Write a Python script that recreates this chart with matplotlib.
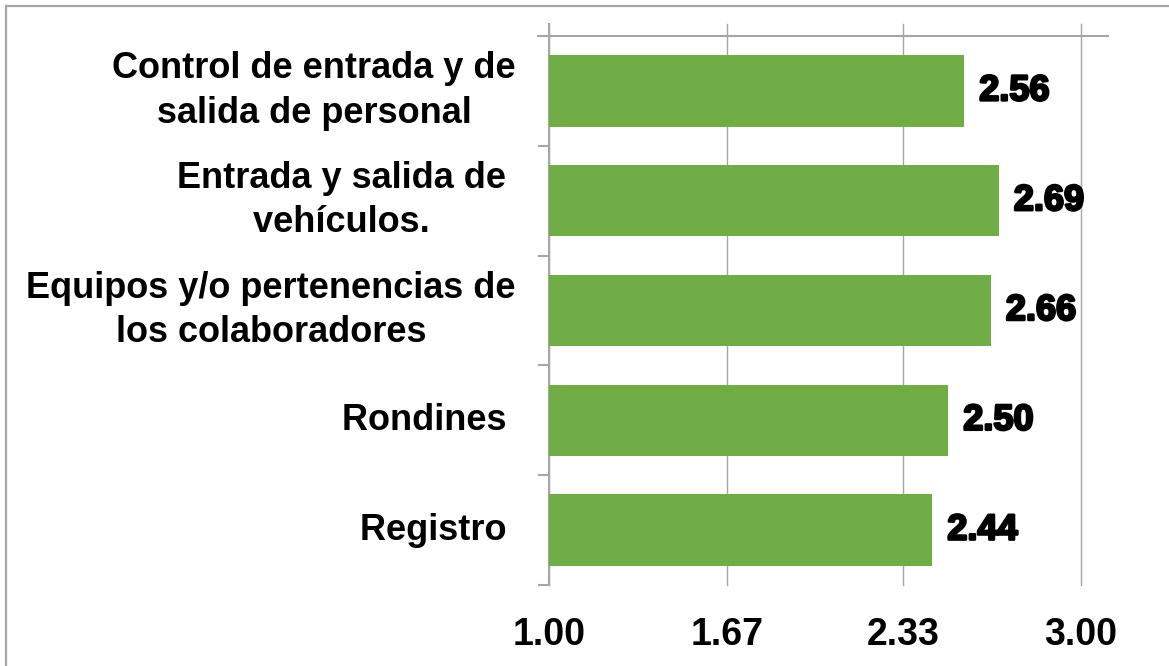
import matplotlib.pyplot as plt
import matplotlib.patheffects as pe
from matplotlib.patches import Rectangle

categories = ["Control de entrada y de\nsalida de personal",
              "Entrada y salida de \nvehículos. ",
              "Equipos y/o pertenencias de\nlos colaboradores",
              "Rondines ",
              "Registro "]
values = [2.56, 2.69, 2.66, 2.50, 2.44]
xticks = [1.00, 1.67, 2.33, 3.00]
xtick_labels = ["1.00", "1.67", "2.33", "3.00"]

W, H = 1169, 666
GREEN = "#70AD47"
GRID = "#A6A6A6"
plt.rcParams['font.family'] = ['Liberation Sans', 'DejaVu Sans']

fig = plt.figure(figsize=(W / 100, H / 100), dpi=100)
# plot area in pixel terms
left, right, top, bottom = 549, 1081, 24, 585
ax = fig.add_axes([left / W, 1 - bottom / H, (right - left) / W, (bottom - top) / H])

pos = list(range(len(categories)))
ax.barh(pos, [v - 1.0 for v in values], left=1.0, height=0.65, color=GREEN, zorder=3)

pitch = (bottom - 36) / 5.0
ax.set_xlim(1.0, 3.0)
ax.set_ylim(4.5, -0.5 - (36 - top) / pitch)

for s in ["top", "right", "bottom"]:
    ax.spines[s].set_visible(False)
ax.spines["left"].set_color(GRID)
ax.spines["left"].set_linewidth(1.5)

ax.set_xticks(xticks)
ax.set_xticklabels(xtick_labels, fontsize=27, fontweight='bold')
ax.tick_params(axis='x', length=0, pad=23)
ax.grid(axis='x', color=GRID, linewidth=1.0, zorder=0)
for gl in ax.get_xgridlines():
    gl.set_clip_on(False)

ax.set_yticks([])
ax.set_yticks([i + 0.5 for i in range(len(categories))], minor=True)
ax.tick_params(axis='y', which='minor', length=8, width=1.5, color=GRID)

# line across the top of the categories
ax.axhline(-0.5, xmin=-11 / (right - left), xmax=(1108 - left) / (right - left),
           color=GRID, linewidth=1.5, clip_on=False, zorder=2)

# category labels
for p, lab in zip(pos, categories):
    ax.text(-(left - 516) / (right - left), p, lab, transform=ax.get_yaxis_transform(),
            ha='right', va='center', multialignment='center', linespacing=1.35,
            fontsize=26, fontweight='bold')

# value labels
for p, v in zip(pos, values):
    ax.annotate(f"{v:.2f}", (v, p), xytext=(11, 0), textcoords='offset points',
                ha='left', va='center', fontsize=26, fontweight='bold',
                path_effects=[pe.withStroke(linewidth=1.8, foreground='black')],
                zorder=4)

# outer chart border
fig.patches.append(Rectangle((6 / W, -0.1), 1.2, 1.1 - 6 / H, transform=fig.transFigure,
                             fill=False, edgecolor=GRID, linewidth=1.6))

fig.savefig("out.png", dpi=100)
